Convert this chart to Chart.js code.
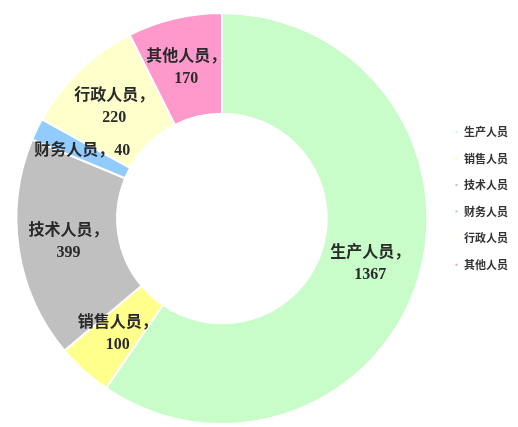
<!DOCTYPE html>
<html>
<head>
<meta charset="utf-8">
<script src="https://cdn.jsdelivr.net/npm/chart.js@4"></script>
<style>
  body { margin: 0; background: #fff; }
  #wrap { width: 518px; height: 427px; }
</style>
</head>
<body>
<div id="wrap"><canvas id="grafico" width="518" height="427"></canvas></div>
<script>
const categorias = ['生产人员', '销售人员', '技术人员', '财务人员', '行政人员', '其他人员'];
const valores = [1367, 100, 399, 40, 220, 170];
const colores = ['#c8fcc8', '#ffff8c', '#c0c0c0', '#92ccff', '#ffffcc', '#ff99cc'];
// labels drawn on a single line
const unaLinea = ['财务人员'];

const etiquetas = {
  id: 'etiquetas',
  afterDatasetsDraw(chart) {
    const ctx = chart.ctx;
    const meta = chart.getDatasetMeta(0);
    ctx.save();
    ctx.font = 'bold 16px "Liberation Serif", "Noto Sans CJK SC", serif';
    ctx.fillStyle = '#2a2a2a';
    ctx.textAlign = 'center';
    ctx.textBaseline = 'middle';
    meta.data.forEach((arc, i) => {
      const p = arc.tooltipPosition();
      const cat = categorias[i];
      if (unaLinea.includes(cat)) {
        ctx.fillText(cat + '，' + valores[i], p.x, p.y);
      } else {
        ctx.fillText(cat + '，', p.x, p.y - 11);
        ctx.fillText(String(valores[i]), p.x, p.y + 11);
      }
    });
    ctx.restore();
  }
};

new Chart(document.getElementById('grafico').getContext('2d'), {
  type: 'doughnut',
  data: {
    labels: categorias,
    datasets: [{
      data: valores,
      backgroundColor: colores,
      borderColor: '#fff',
      borderWidth: 2
    }]
  },
  options: {
    responsive: false,
    animation: false,
    cutout: '51%',
    layout: { padding: { top: 12, bottom: 2, left: 5, right: 0 } },
    plugins: {
      legend: {
        position: 'right',
        align: 'start',
        title: { display: true, text: '', font: { size: 1 }, padding: { top: 97.5, bottom: 0 } },
        labels: {
          boxWidth: 4,
          boxHeight: 4,
          padding: 15.6,
          color: '#333',
          font: { size: 11, weight: 'bold', family: '"Noto Sans CJK SC", sans-serif' }
        }
      },
      tooltip: { enabled: false }
    }
  },
  plugins: [etiquetas]
});
</script>
</body>
</html>
